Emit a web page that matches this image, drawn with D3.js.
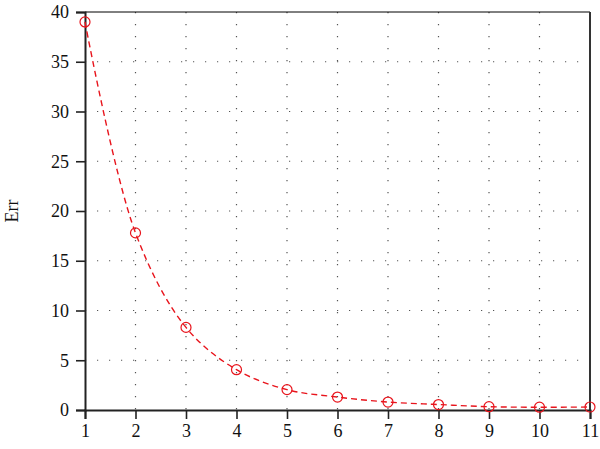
<!DOCTYPE html>
<html>
<head>
<meta charset="utf-8">
<script src="https://cdn.jsdelivr.net/npm/d3@7"></script>
<style>
  body { margin: 0; background: #fff; }
  svg { display: block; font-family: "Liberation Serif", "DejaVu Serif", serif; }
</style>
</head>
<body>
<div id="chart"></div>
<script>
// data
const iterations = [1, 2, 3, 4, 5, 6, 7, 8, 9, 10, 11];
const err = [39.0, 17.8, 8.3, 4.05, 2.05, 1.3, 0.8, 0.55, 0.33, 0.28, 0.3];
const xTicks = [1, 2, 3, 4, 5, 6, 7, 8, 9, 10, 11];
const yTicks = [0, 5, 10, 15, 20, 25, 30, 35, 40];

const width = 600, height = 449;
const margin = {top: 12, right: 10, bottom: 39, left: 85};
const iw = width - margin.left - margin.right;
const ih = height - margin.top - margin.bottom;

const svg = d3.select('#chart').append('svg')
  .attr('width', width).attr('height', height);

const x = d3.scaleLinear().domain([1, 11]).range([0, iw]);
const y = d3.scaleLinear().domain([0, 40]).range([ih, 0]);

const g = svg.append('g').attr('transform', `translate(${margin.left},${margin.top})`);

// dotted grid
g.append('g').selectAll('line').data(xTicks.slice(1, -1)).join('line')
  .attr('x1', d => x(d)).attr('x2', d => x(d))
  .attr('y1', 0).attr('y2', ih)
  .attr('stroke', '#555').attr('stroke-width', 1.2)
  .attr('stroke-dasharray', '1.2,10.8');
g.append('g').selectAll('line').data(yTicks.slice(1, -1)).join('line')
  .attr('y1', d => y(d)).attr('y2', d => y(d))
  .attr('x1', 0).attr('x2', iw)
  .attr('stroke', '#555').attr('stroke-width', 1.2)
  .attr('stroke-dasharray', '1.2,10.8');

// frame top / right
g.append('line').attr('x1', 0).attr('x2', iw).attr('y1', 0).attr('y2', 0)
  .attr('stroke', '#000').attr('stroke-width', 1);
g.append('line').attr('x1', iw).attr('x2', iw).attr('y1', 0).attr('y2', ih)
  .attr('stroke', '#333').attr('stroke-width', 2);

// axes
const xAxis = g.append('g').attr('transform', `translate(0,${ih})`)
  .call(d3.axisBottom(x).tickValues(xTicks).tickSize(9).tickPadding(5).tickFormat(d3.format('d')));
const yAxis = g.append('g')
  .call(d3.axisLeft(y).tickValues(yTicks).tickSize(9).tickPadding(7).tickFormat(d3.format('d')));

[xAxis, yAxis].forEach(a => {
  a.select('.domain').attr('stroke', '#222').attr('stroke-width', 2);
  a.selectAll('.tick line').attr('stroke', '#222').attr('stroke-width', 1.6);
  a.selectAll('.tick text').attr('font-size', 18).attr('fill', '#111')
    .attr('font-family', '"Liberation Serif", serif');
});

// y label
svg.append('text')
  .attr('transform', `translate(18,${margin.top + ih / 2}) rotate(-90)`)
  .attr('text-anchor', 'middle')
  .attr('font-size', 18).attr('fill', '#111')
  .text('Err');

// line + markers
const pts = iterations.map((d, i) => [d, err[i]]);
const line = d3.line().x(d => x(d[0])).y(d => y(d[1])).curve(d3.curveCatmullRom);
g.append('path').datum(pts)
  .attr('d', line)
  .attr('fill', 'none').attr('stroke', '#e8141c').attr('stroke-width', 1.4)
  .attr('stroke-dasharray', '6,4');

g.selectAll('circle.m').data(pts).join('circle')
  .attr('class', 'm')
  .attr('cx', d => x(d[0])).attr('cy', d => y(d[1])).attr('r', 5)
  .attr('fill', 'none').attr('stroke', '#e8141c').attr('stroke-width', 1.2);
</script>
</body>
</html>
